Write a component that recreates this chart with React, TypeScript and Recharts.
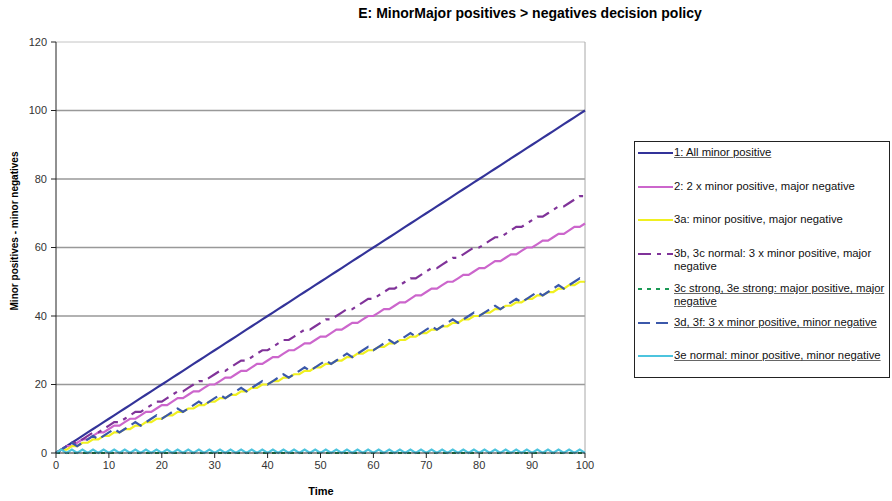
import { CartesianGrid, Line, LineChart, ReferenceLine, XAxis, YAxis } from 'recharts';

// Zeitachse 0..100
const TIME = [
  0, 1, 2, 3, 4, 5, 6, 7, 8, 9, 10, 11, 12, 13, 14, 15, 16, 17, 18, 19, 20,
  21, 22, 23, 24, 25, 26, 27, 28, 29, 30, 31, 32, 33, 34, 35, 36, 37, 38, 39, 40,
  41, 42, 43, 44, 45, 46, 47, 48, 49, 50, 51, 52, 53, 54, 55, 56, 57, 58, 59, 60,
  61, 62, 63, 64, 65, 66, 67, 68, 69, 70, 71, 72, 73, 74, 75, 76, 77, 78, 79, 80,
  81, 82, 83, 84, 85, 86, 87, 88, 89, 90, 91, 92, 93, 94, 95, 96, 97, 98, 99, 100,
];

const ALL_MINOR_POS = [
  0, 1, 2, 3, 4, 5, 6, 7, 8, 9, 10, 11, 12, 13, 14, 15, 16, 17, 18, 19, 20,
  21, 22, 23, 24, 25, 26, 27, 28, 29, 30, 31, 32, 33, 34, 35, 36, 37, 38, 39, 40,
  41, 42, 43, 44, 45, 46, 47, 48, 49, 50, 51, 52, 53, 54, 55, 56, 57, 58, 59, 60,
  61, 62, 63, 64, 65, 66, 67, 68, 69, 70, 71, 72, 73, 74, 75, 76, 77, 78, 79, 80,
  81, 82, 83, 84, 85, 86, 87, 88, 89, 90, 91, 92, 93, 94, 95, 96, 97, 98, 99, 100,
];

const TWO_MINOR_POS_MAJOR_NEG = [
  0, 1, 2, 2, 3, 4, 4, 5, 6, 6, 7, 8, 8, 9, 10, 10, 11, 12, 12, 13, 14, 14, 15, 16, 16, 17, 18, 18, 19, 20,
  20, 21, 22, 22, 23, 24, 24, 25, 26, 26, 27, 28, 28, 29, 30, 30, 31, 32, 32, 33, 34, 34, 35, 36, 36, 37, 38, 38, 39, 40,
  40, 41, 42, 42, 43, 44, 44, 45, 46, 46, 47, 48, 48, 49, 50, 50, 51, 52, 52, 53, 54, 54, 55, 56, 56, 57, 58, 58, 59, 60,
  60, 61, 62, 62, 63, 64, 64, 65, 66, 66, 67,
];

const MINOR_POS_MAJOR_NEG = [
  0, 1, 1, 2, 2, 3, 3, 4, 4, 5, 5, 6, 6, 7, 7, 8, 8, 9, 9, 10, 10,
  11, 11, 12, 12, 13, 13, 14, 14, 15, 15, 16, 16, 17, 17, 18, 18, 19, 19, 20, 20,
  21, 21, 22, 22, 23, 23, 24, 24, 25, 25, 26, 26, 27, 27, 28, 28, 29, 29, 30, 30,
  31, 31, 32, 32, 33, 33, 34, 34, 35, 35, 36, 36, 37, 37, 38, 38, 39, 39, 40, 40,
  41, 41, 42, 42, 43, 43, 44, 44, 45, 45, 46, 46, 47, 47, 48, 48, 49, 49, 50, 50,
];

const THREE_MINOR_POS_MAJOR_NEG = [
  0, 1, 2, 3, 3, 4, 5, 6, 6, 7, 8, 9, 9, 10, 11, 12, 12, 13, 14, 15,
  15, 16, 17, 18, 18, 19, 20, 21, 21, 22, 23, 24, 24, 25, 26, 27, 27, 28, 29, 30,
  30, 31, 32, 33, 33, 34, 35, 36, 36, 37, 38, 39, 39, 40, 41, 42, 42, 43, 44, 45,
  45, 46, 47, 48, 48, 49, 50, 51, 51, 52, 53, 54, 54, 55, 56, 57, 57, 58, 59, 60,
  60, 61, 62, 63, 63, 64, 65, 66, 66, 67, 68, 69, 69, 70, 71, 72, 72, 73, 74, 75,
  75,
];

const MAJOR_POS_MAJOR_NEG = [
  0, 0, 0, 0, 0, 0, 0, 0, 0, 0, 0, 0, 0, 0, 0, 0, 0, 0, 0, 0, 0,
  0, 0, 0, 0, 0, 0, 0, 0, 0, 0, 0, 0, 0, 0, 0, 0, 0, 0, 0, 0,
  0, 0, 0, 0, 0, 0, 0, 0, 0, 0, 0, 0, 0, 0, 0, 0, 0, 0, 0, 0,
  0, 0, 0, 0, 0, 0, 0, 0, 0, 0, 0, 0, 0, 0, 0, 0, 0, 0, 0, 0,
  0, 0, 0, 0, 0, 0, 0, 0, 0, 0, 0, 0, 0, 0, 0, 0, 0, 0, 0, 0,
];

const THREE_MINOR_POS_MINOR_NEG = [
  0, 1, 2, 3, 2, 3, 4, 5, 4, 5, 6, 7, 6, 7, 8, 9, 8, 9, 10, 11,
  10, 11, 12, 13, 12, 13, 14, 15, 14, 15, 16, 17, 16, 17, 18, 19, 18, 19, 20, 21,
  20, 21, 22, 23, 22, 23, 24, 25, 24, 25, 26, 27, 26, 27, 28, 29, 28, 29, 30, 31,
  30, 31, 32, 33, 32, 33, 34, 35, 34, 35, 36, 37, 36, 37, 38, 39, 38, 39, 40, 41,
  40, 41, 42, 43, 42, 43, 44, 45, 44, 45, 46, 47, 46, 47, 48, 49, 48, 49, 50, 51,
  50,
];

const MINOR_POS_MINOR_NEG = [
  0, 1, 0, 1, 0, 1, 0, 1, 0, 1, 0, 1, 0, 1, 0, 1, 0, 1, 0, 1, 0,
  1, 0, 1, 0, 1, 0, 1, 0, 1, 0, 1, 0, 1, 0, 1, 0, 1, 0, 1, 0,
  1, 0, 1, 0, 1, 0, 1, 0, 1, 0, 1, 0, 1, 0, 1, 0, 1, 0, 1, 0,
  1, 0, 1, 0, 1, 0, 1, 0, 1, 0, 1, 0, 1, 0, 1, 0, 1, 0, 1, 0,
  1, 0, 1, 0, 1, 0, 1, 0, 1, 0, 1, 0, 1, 0, 1, 0, 1, 0, 1, 0,
];

const Y_TICKS = [0, 20, 40, 60, 80, 100, 120];
const X_TICKS = [0, 10, 20, 30, 40, 50, 60, 70, 80, 90, 100];

const SERIES = [
  { key: 's1', name: '1: All minor positive', values: ALL_MINOR_POS, color: '#333399', dash: undefined, underline: true },
  { key: 's2', name: '2: 2 x minor positive, major negative', values: TWO_MINOR_POS_MAJOR_NEG, color: '#cc66cc', dash: undefined, underline: false },
  { key: 's3a', name: '3a: minor positive, major negative', values: MINOR_POS_MAJOR_NEG, color: '#f0f020', dash: undefined, underline: false },
  { key: 's3b', name: '3b, 3c normal: 3 x minor positive, major negative', values: THREE_MINOR_POS_MAJOR_NEG, color: '#803399', dash: '13 6 4 6', underline: false },
  { key: 's3c', name: '3c strong, 3e strong: major positive, major negative', values: MAJOR_POS_MAJOR_NEG, color: '#1a9955', dash: '4 5', underline: true },
  { key: 's3d', name: '3d, 3f: 3 x minor positive, minor negative', values: THREE_MINOR_POS_MINOR_NEG, color: '#3b58aa', dash: '12 6', underline: true },
  { key: 's3e', name: '3e normal: minor positive, minor negative', values: MINOR_POS_MINOR_NEG, color: '#4cc4de', dash: undefined, underline: true },
];

const FONT = 'Arial, "Liberation Sans", sans-serif';

const data = TIME.map((t, i) => {
  const row: { [k: string]: number } = { t };
  for (const s of SERIES) row[s.key] = s.values[i];
  return row;
});

// row heights of the legend entries (two-line entries are taller)
const LEGEND_ROWS = [34, 33, 34, 35, 34, 33, 34];

function LegendBox() {
  return (
    <div
      style={{
        position: 'absolute',
        left: 634,
        top: 141,
        width: 256,
        height: 237,
        border: '1px solid #222',
        fontFamily: FONT,
        fontSize: 11.3,
        color: '#111',
        boxSizing: 'border-box',
        paddingTop: 4,
      }}
    >
      {SERIES.map((s, i) => (
        <div key={s.key} style={{ display: 'flex', alignItems: 'flex-start', height: LEGEND_ROWS[i] }}>
          <svg width={35} height={13} style={{ flex: 'none', marginLeft: 3 }}>
            <line x1={0} y1={7} x2={35} y2={7} stroke={s.color} strokeWidth={2} strokeDasharray={s.dash} />
          </svg>
          <span
            style={{
              lineHeight: '13px',
              textDecoration: s.underline ? 'underline' : 'none',
              textDecorationColor: '#666',
              paddingLeft: 1,
            }}
          >
            {s.name}
          </span>
        </div>
      ))}
    </div>
  );
}

export default function App() {
  return (
    <div style={{ position: 'absolute', left: 0, top: 0, width: 892, height: 501, background: '#fff', fontFamily: FONT }}>
      <LineChart width={892} height={501} data={data} margin={{ top: 42, right: 307, bottom: 18, left: 0 }}>
        <CartesianGrid vertical={false} horizontalValues={[20, 40, 60, 80, 100]} stroke="#999" strokeWidth={1.5} />
        <ReferenceLine y={120} stroke="#c4c4c4" strokeWidth={1} />
        <ReferenceLine x={100} stroke="#a8a8a8" strokeWidth={1} />
        <XAxis
          dataKey="t"
          type="number"
          domain={[0, 100]}
          ticks={X_TICKS}
          height={30}
          stroke="#222"
          tickSize={5}
          tickMargin={3}
          tick={{ fontSize: 11, fill: '#333', fontFamily: FONT }}
        />
        <YAxis
          type="number"
          domain={[0, 120]}
          ticks={Y_TICKS}
          width={56}
          stroke="#222"
          tickSize={5}
          tickMargin={4}
          tick={{ fontSize: 11, fill: '#333', fontFamily: FONT }}
        />
        {SERIES.map((s) => (
          <Line
            key={s.key}
            type="linear"
            dataKey={s.key}
            name={s.name}
            stroke={s.color}
            strokeWidth={2.2}
            strokeDasharray={s.dash}
            dot={false}
            activeDot={false}
            isAnimationActive={false}
          />
        ))}
      </LineChart>
      <div style={{ position: 'absolute', left: 280, width: 500, top: 5, textAlign: 'center', fontWeight: 'bold', fontSize: 14 }}>
        E: MinorMajor positives &gt; negatives decision policy
      </div>
      <div style={{ position: 'absolute', left: 221, width: 200, top: 485, textAlign: 'center', fontWeight: 'bold', fontSize: 11 }}>
        Time
      </div>
      <div
        style={{
          position: 'absolute',
          left: 15 - 110,
          top: 231 - 8,
          width: 220,
          textAlign: 'center',
          fontWeight: 'bold',
          fontSize: 10,
          transform: 'rotate(-90deg)',
          lineHeight: '16px',
        }}
      >
        Minor positives - minor negatives
      </div>
      <LegendBox />
    </div>
  );
}
